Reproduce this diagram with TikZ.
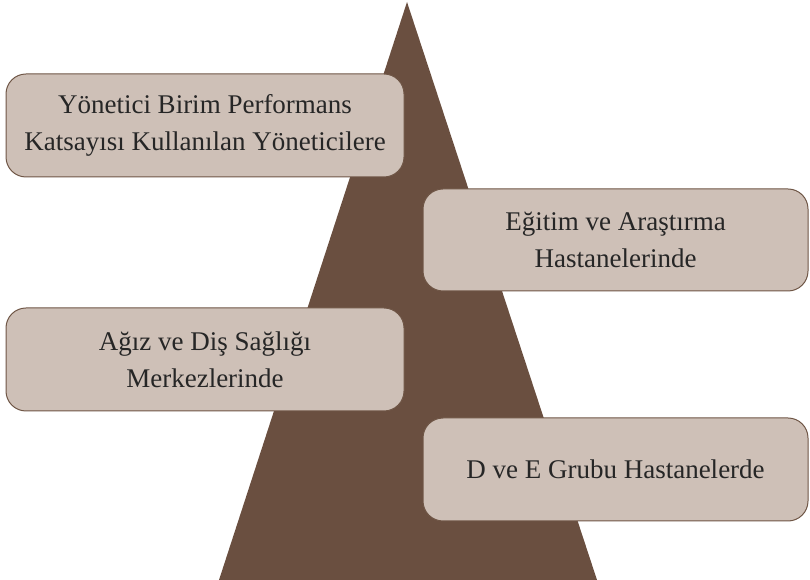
\documentclass[tikz,border=0pt]{standalone}
\usepackage{fontspec}
\setmainfont{Liberation Serif}
\usepackage{tikz}
\usetikzlibrary{positioning}
\definecolor{piramit}{HTML}{6A4F40}
\definecolor{kutudolgu}{HTML}{CEC0B7}
\definecolor{kutukenar}{HTML}{6F5646}

\begin{document}
\begin{tikzpicture}[x=1pt,y=1pt]
		\tikzstyle{katman}=[rectangle, rounded corners=20pt, fill=kutudolgu, draw=kutukenar, line width=1pt, align=center, font=\fontsize{27}{37}\selectfont, text=black!85]
		\useasboundingbox (0,0) rectangle (810,580);
		\coordinate (tepe) at (407,578);
		\coordinate (soltaban) at (219,0);
		\coordinate (sagtaban) at (597,0);
		\fill[piramit] (tepe) -- (sagtaban) -- (soltaban) -- cycle;
		\node[katman, minimum width=398, minimum height=103] (yonetici) at (205,454.5) {Yönetici Birim Performans\\Katsayısı Kullanılan Yöneticilere};
		\node[katman, minimum width=385, minimum height=102] (egitim) at (615.5,340) {Eğitim ve Araştırma\\Hastanelerinde};
		\node[katman, minimum width=398, minimum height=103] (agiz) at (205,220.5) {Ağız ve Diş Sağlığı\\Merkezlerinde};
		\node[katman, minimum width=385, minimum height=103] (grup) at (615.5,110.5) {D ve E Grubu Hastanelerde};
	\end{tikzpicture}
\end{document}
